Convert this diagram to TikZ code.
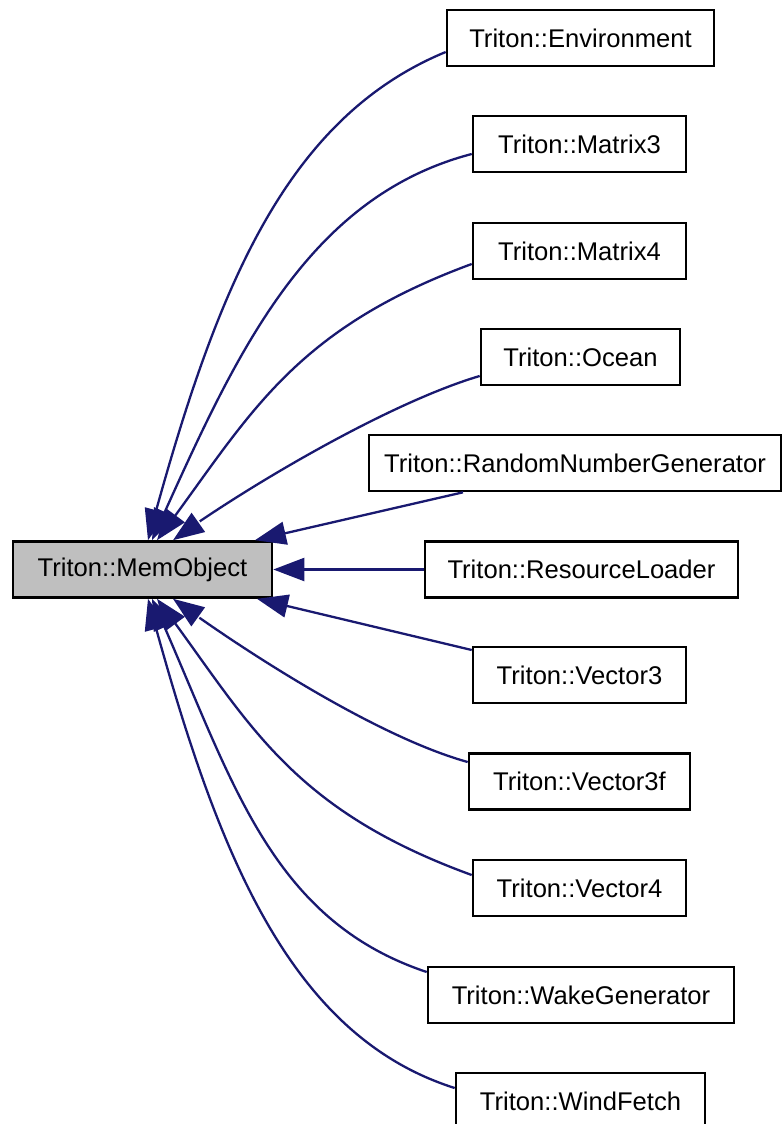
\documentclass[tikz,border=0pt]{standalone}
\usepackage{fontspec}
\setmainfont{Liberation Sans}
\usetikzlibrary{arrows.meta,bending}
\definecolor{edgeblue}{RGB}{25,25,112}
\definecolor{basefill}{RGB}{191,191,191}
\begin{document}
\begin{tikzpicture}[
  x=0.5pt, y=-0.5pt,
  every node/.style={font=\fontsize{12.8pt}{15pt}\selectfont, inner sep=0pt},
  cls/.style={draw=black, line width=1.3pt, fill=white, minimum height=28pt},
  base/.style={cls, fill=basefill},
  edge/.style={draw=edgeblue, line width=1.15pt,
    {Triangle[length=15.5pt,width=11.5pt]}-}
]
\useasboundingbox (0,0) rectangle (782,1124);

% classes
\node[base, minimum width=129.5pt] (mem)   at (142.5,569.5) {Triton::MemObject};
\node[cls, minimum width=133.5pt]  (env)   at (580.5,38)    {Triton::Environment};
\node[cls, minimum width=106.5pt]  (mat3)  at (579.5,144)   {Triton::Matrix3};
\node[cls, minimum width=106.5pt]  (mat4)  at (579.5,251)   {Triton::Matrix4};
\node[cls, minimum width=99.5pt]   (ocean) at (580.5,357)   {Triton::Ocean};
\node[cls, minimum width=206pt]    (rng)   at (575,463)     {Triton::RandomNumberGenerator};
\node[cls, minimum width=156.5pt]  (rl)    at (581.5,569.5) {Triton::ResourceLoader};
\node[cls, minimum width=106.5pt]  (vec3)  at (579.5,675)   {Triton::Vector3};
\node[cls, minimum width=110.5pt]  (vec3f) at (579.5,781.5) {Triton::Vector3f};
\node[cls, minimum width=106.5pt]  (vec4)  at (579.5,888)   {Triton::Vector4};
\node[cls, minimum width=153pt]    (wake)  at (581,995)     {Triton::WakeGenerator};
\node[cls, minimum width=124.5pt]  (wind)  at (580.5,1101)  {Triton::WindFetch};

% inheritance edges (arrow at the base class)
\draw[edge] ([xshift=2.75pt]mem.north) .. controls (213,299) and (281,120) .. ([yshift=-7pt]env.west);
\draw[edge] ([xshift=4.75pt]mem.north) .. controls (230,368) and (300,199) .. ([yshift=-5pt]mat3.west);
\draw[edge] ([xshift=7.25pt]mem.north) .. controls (247,421) and (287,332) .. ([yshift=-6.5pt]mat4.west);
\draw[edge] ([xshift=15.25pt]mem.north) .. controls (237,493) and (385,404) .. ([yshift=-9.5pt]ocean.west);
\draw[edge] ([xshift=56.25pt]mem.north) -- ([xshift=-56pt]rng.south);
\draw[edge] (mem.east) -- (rl.west);
\draw[edge] ([xshift=57.25pt]mem.south) -- ([yshift=12.5pt]vec3.west);
\draw[edge] ([xshift=15.25pt]mem.south) .. controls (237,646) and (374,736) .. ([yshift=9.75pt]vec3f.west);
\draw[edge] ([xshift=7.25pt]mem.south) .. controls (247,718) and (285,807) .. ([yshift=6.5pt]vec4.west);
\draw[edge] ([xshift=4.75pt]mem.south) .. controls (230,771) and (265,918) .. ([yshift=11.5pt]wake.west);
\draw[edge] ([xshift=2.75pt]mem.south) .. controls (213,840) and (284,1034) .. ([yshift=6.5pt]wind.west);
\end{tikzpicture}
\end{document}
